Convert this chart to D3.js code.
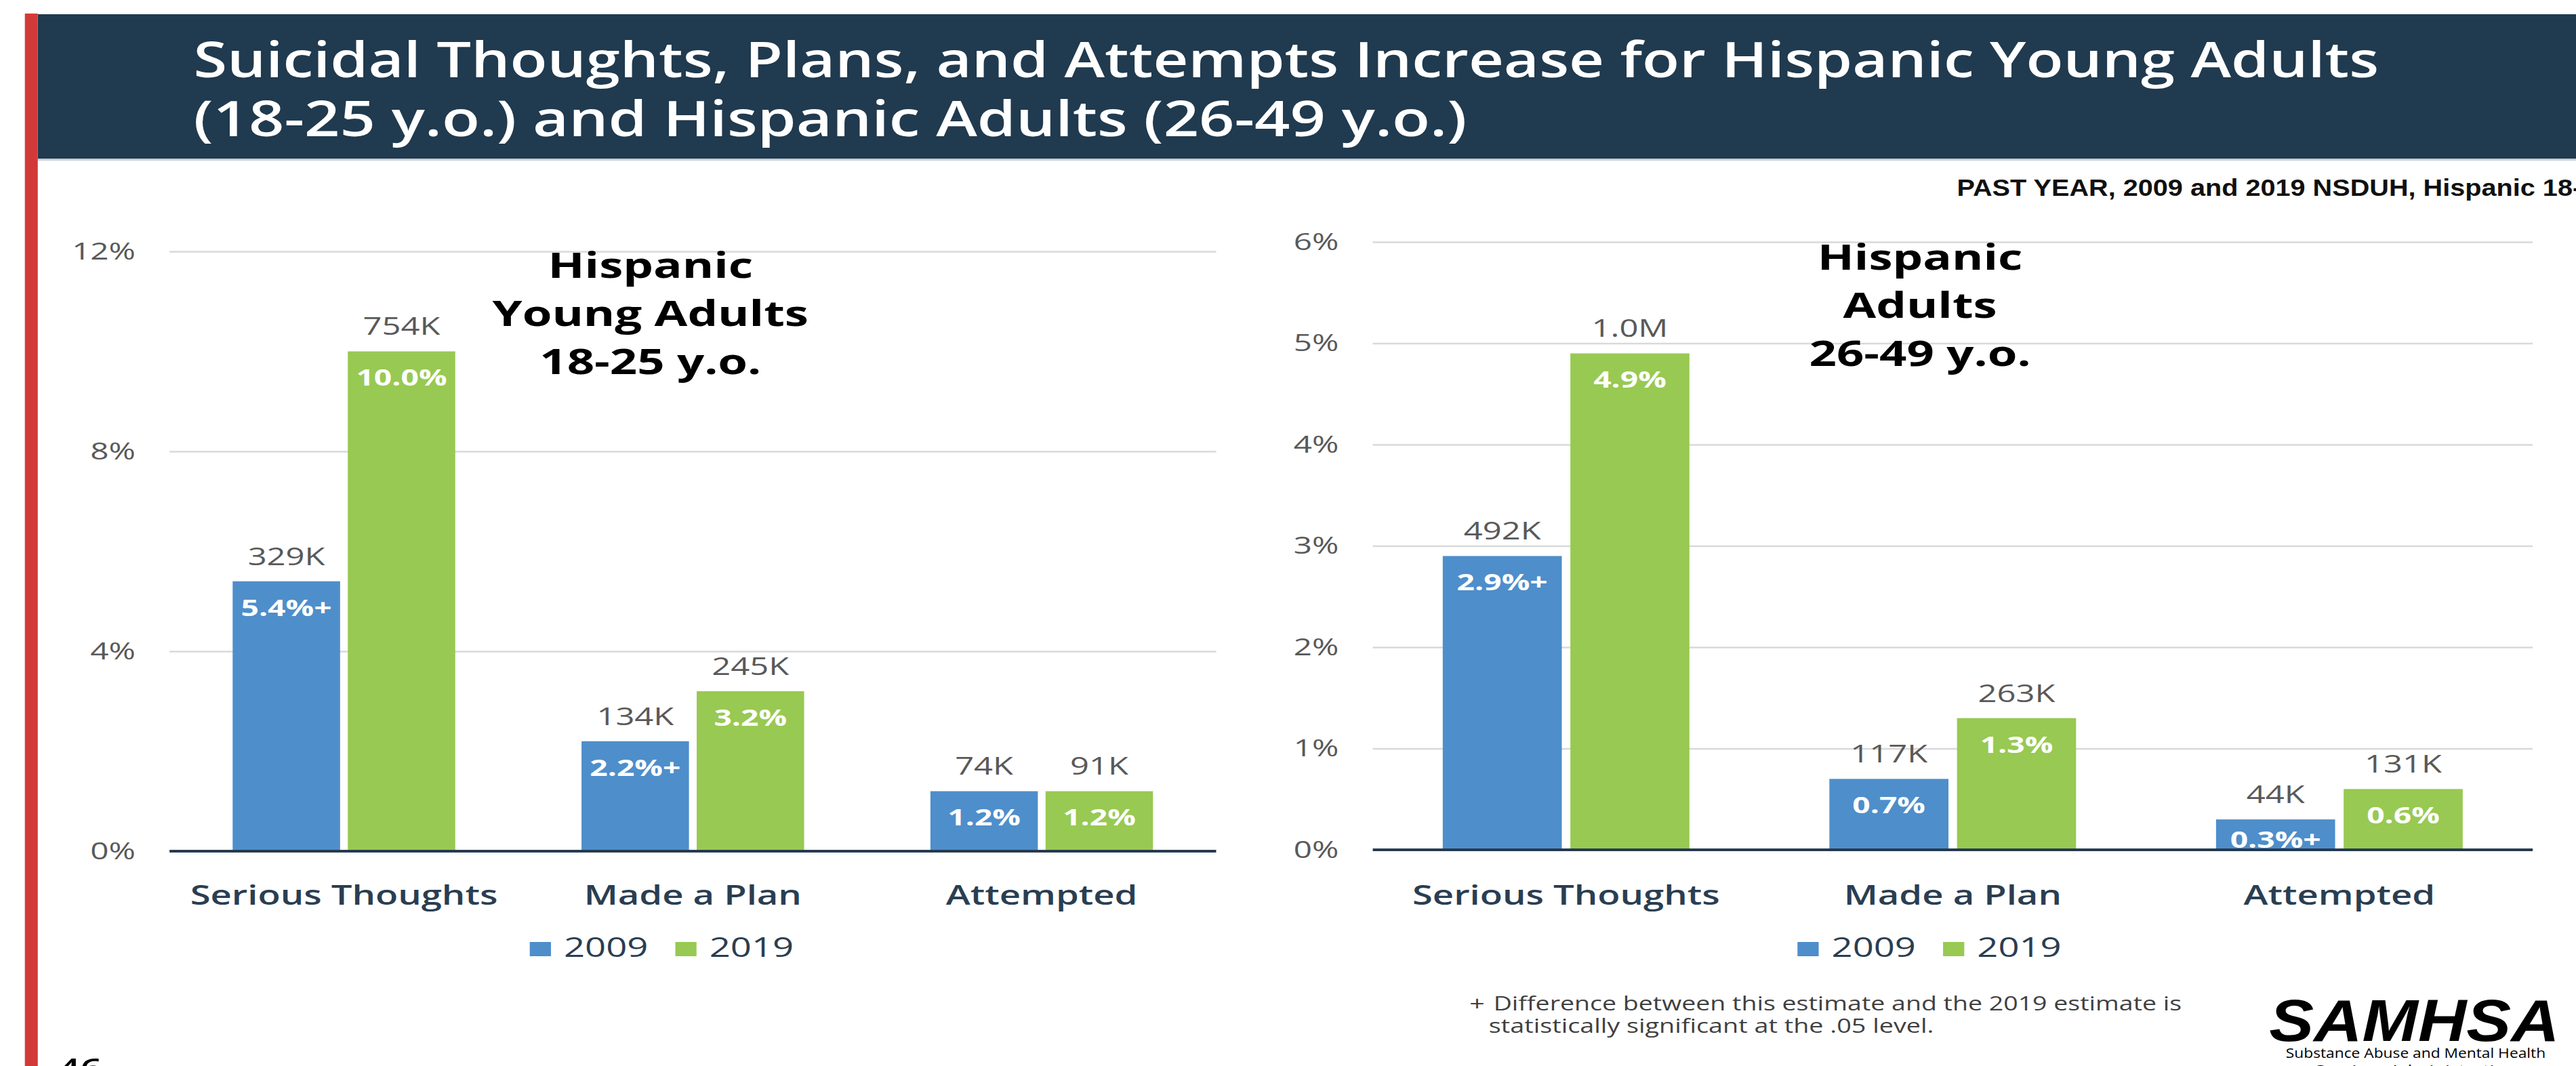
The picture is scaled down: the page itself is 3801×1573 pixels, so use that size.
<!DOCTYPE html>
<html>
<head>
<meta charset="utf-8">
<script src="https://cdn.jsdelivr.net/npm/d3@7"></script>
<style>
  html, body { margin: 0; padding: 0; background: #ffffff; overflow: hidden; }
  svg { display: block; }
</style>
</head>
<body>
<svg id="slide"></svg>
<script>
// ---- data -------------------------------------------------------------
const categories = ["Serious Thoughts", "Made a Plan", "Attempted"];
const years = ["2009", "2019"];

// Hispanic young adults, 18-25 (percent of population, past year)
const youngPct2009 = [5.4, 2.2, 1.2];
const youngPct2019 = [10.0, 3.2, 1.2];
const youngCount2009 = ["329K", "134K", "74K"];
const youngCount2019 = ["754K", "245K", "91K"];
const youngSig2009 = [true, true, false];
const youngTicks = [0, 4, 8, 12];

// Hispanic adults, 26-49
const adultPct2009 = [2.9, 0.7, 0.3];
const adultPct2019 = [4.9, 1.3, 0.6];
const adultCount2009 = ["492K", "117K", "44K"];
const adultCount2019 = ["1.0M", "263K", "131K"];
const adultSig2009 = [true, false, true];
const adultTicks = [0, 1, 2, 3, 4, 5, 6];

const titleLines = [
  "Suicidal Thoughts, Plans, and Attempts Increase for Hispanic Young Adults",
  "(18-25 y.o.) and Hispanic Adults (26-49 y.o.)"
];
const sourceNote = "PAST YEAR, 2009 and 2019 NSDUH, Hispanic 18-";
const footnoteLines = [
  "Difference between this estimate and the 2019 estimate is",
  "statistically significant at the .05 level."
];

// ---- page setup -------------------------------------------------------
// The slide is laid out on a 16:9 canvas and stretched to fill the window.
const W = 2796, H = 1573;
const svg = d3.select("#slide")
  .attr("width", 3801).attr("height", 1573)
  .attr("viewBox", `0 0 ${W} ${H}`)
  .attr("preserveAspectRatio", "none");

const SANS = "'Open Sans', 'Noto Sans', sans-serif";
const BLUE = "#4e8ecb", GREEN = "#98c952";
const NAVY = "#203a4f", INK = "#2a3e52", GREY = "#595959";

svg.append("rect").attr("width", W).attr("height", H).attr("fill", "#ffffff");

// header band
svg.append("rect").attr("x", 41).attr("y", 21).attr("width", W - 41).attr("height", 213).attr("fill", NAVY);
svg.append("rect").attr("x", 41).attr("y", 234).attr("width", W - 41).attr("height", 3).attr("fill", "#c9d0d8");
// red side stripe
svg.append("rect").attr("x", 27).attr("y", 20).attr("width", 14).attr("height", H - 20).attr("fill", "#d23a3a");

const titleWidths = [2372, 1382];
svg.append("g").selectAll("text").data(titleLines).join("text")
  .attr("x", 210).attr("y", (d, i) => 114 + i * 87)
  .attr("fill", "#ffffff")
  .attr("font-family", SANS).attr("font-weight", 600).attr("font-size", 72)
  .attr("textLength", (d, i) => titleWidths[i]).attr("lengthAdjust", "spacingAndGlyphs")
  .text(d => d);

// source line (condensed bold)
svg.append("text")
  .attr("x", 2124).attr("y", 289)
  .attr("fill", "#111111")
  .attr("font-family", "'Liberation Sans', Arial, sans-serif").attr("font-weight", 700).attr("font-size", 35)
  .attr("textLength", 678).attr("lengthAdjust", "spacingAndGlyphs")
  .text(sourceNote);

// ---- panels -----------------------------------------------------------
const panels = [
  {
    left: 184, right: 1320, bottom: 1256, top: 371, max: 12, ticks: youngTicks,
    pct: [youngPct2009, youngPct2019], counts: [youngCount2009, youngCount2019],
    sig: [youngSig2009, [false, false, false]],
    subtitle: ["Hispanic", "Young Adults", "18-25 y.o."], subX: 706, subY: 410,
    legendX: 575
  },
  {
    left: 1490, right: 2749, bottom: 1254, top: 357, max: 6, ticks: adultTicks,
    pct: [adultPct2009, adultPct2019], counts: [adultCount2009, adultCount2019],
    sig: [adultSig2009, [false, false, false]],
    subtitle: ["Hispanic", "Adults", "26-49 y.o."], subX: 2084, subY: 398,
    legendX: 1951
  }
];

function drawPanel(p) {
  const g = svg.append("g");

  const x0 = d3.scaleBand().domain(categories).range([p.left, p.right])
    .paddingInner(0.362).paddingOuter(0.181);
  const x1 = d3.scaleBand().domain(years).range([0, x0.bandwidth()]).paddingInner(0.067);
  const y = d3.scaleLinear().domain([0, p.max]).range([p.bottom, p.top]);
  const colour = d3.scaleOrdinal().domain(years).range([BLUE, GREEN]);

  // gridlines and percent ticks
  const axis = d3.axisLeft(y).tickValues(p.ticks)
    .tickSize(-(p.right - p.left)).tickPadding(37)
    .tickFormat(d => d + "%");
  const ag = g.append("g").attr("transform", `translate(${p.left},0)`).call(axis);
  ag.attr("font-family", SANS).attr("font-size", 35);
  ag.select(".domain").remove();
  ag.selectAll(".tick line").attr("stroke", "#d9d9d9").attr("stroke-width", 2.5)
    .filter(d => d === 0).remove();
  ag.selectAll(".tick text").attr("fill", GREY);

  const rows = categories.map((c, i) => ({
    cat: c,
    bars: years.map((yr, j) => ({
      cat: c, year: yr, pct: p.pct[j][i], count: p.counts[j][i], sig: p.sig[j][i]
    }))
  }));

  const groups = g.append("g").selectAll("g").data(rows).join("g")
    .attr("transform", d => `translate(${x0(d.cat)},0)`);

  groups.selectAll("rect").data(d => d.bars).join("rect")
    .attr("x", d => x1(d.year))
    .attr("y", d => y(d.pct))
    .attr("width", x1.bandwidth())
    .attr("height", d => y(0) - y(d.pct))
    .attr("fill", d => colour(d.year));

  // population counts above the bars
  groups.selectAll("text.count").data(d => d.bars).join("text")
    .attr("class", "count")
    .attr("x", d => x1(d.year) + x1.bandwidth() / 2)
    .attr("y", d => y(d.pct) - 24)
    .attr("text-anchor", "middle")
    .attr("fill", GREY)
    .attr("font-family", SANS).attr("font-size", 36)
    .text(d => d.count);

  // percentages inside the bars
  groups.selectAll("text.pct").data(d => d.bars).join("text")
    .attr("class", "pct")
    .attr("x", d => x1(d.year) + x1.bandwidth() / 2)
    .attr("y", d => Math.min(y(d.pct) + 51, y(0) - 3))
    .attr("text-anchor", "middle")
    .attr("fill", "#ffffff")
    .attr("font-family", SANS).attr("font-weight", 700).attr("font-size", 34)
    .text(d => d.pct.toFixed(1) + "%" + (d.sig ? "+" : ""));

  // baseline
  g.append("line")
    .attr("x1", p.left).attr("x2", p.right)
    .attr("y1", y(0)).attr("y2", y(0))
    .attr("stroke", "#263a4e").attr("stroke-width", 4);

  // category labels
  g.append("g").selectAll("text").data(categories).join("text")
    .attr("x", d => x0(d) + x0.bandwidth() / 2)
    .attr("y", 1335)
    .attr("text-anchor", "middle")
    .attr("fill", INK)
    .attr("font-family", SANS).attr("font-weight", 600).attr("font-size", 40)
    .text(d => d);

  // panel heading
  g.append("g").selectAll("text").data(p.subtitle).join("text")
    .attr("x", p.subX).attr("y", (d, i) => p.subY + i * 71)
    .attr("text-anchor", "middle")
    .attr("fill", "#000000")
    .attr("font-family", SANS).attr("font-weight", 700).attr("font-size", 52)
    .text(d => d);

  // legend
  const lg = g.append("g").attr("transform", `translate(${p.legendX},0)`);
  const items = lg.selectAll("g").data(years).join("g")
    .attr("transform", (d, i) => `translate(${i * 158},0)`);
  items.append("rect").attr("x", 0).attr("y", 1390).attr("width", 23).attr("height", 21)
    .attr("fill", d => colour(d));
  items.append("text").attr("x", 37).attr("y", 1412)
    .attr("fill", INK)
    .attr("font-family", SANS).attr("font-size", 40)
    .text(d => d);
}

panels.forEach(drawPanel);

// ---- footnote, logo, page number -------------------------------------
svg.append("text").attr("x", 1595).attr("y", 1491)
  .attr("fill", "#404040").attr("font-family", SANS).attr("font-size", 29).text("+");
const footWidths = [747, 483];
svg.append("g").selectAll("text").data(footnoteLines).join("text")
  .attr("x", (d, i) => i === 0 ? 1621 : 1616)
  .attr("y", (d, i) => 1491 + i * 33)
  .attr("fill", "#404040")
  .attr("font-family", SANS).attr("font-size", 29)
  .attr("textLength", (d, i) => footWidths[i]).attr("lengthAdjust", "spacingAndGlyphs")
  .text(d => d);

svg.append("text").attr("x", 2463).attr("y", 1536)
  .attr("fill", "#000000")
  .attr("font-family", "'Liberation Sans', Arial, sans-serif").attr("font-weight", 700)
  .attr("font-style", "italic").attr("font-size", 88)
  .attr("textLength", 315).attr("lengthAdjust", "spacingAndGlyphs")
  .text("SAMHSA");
svg.append("text").attr("x", 2622).attr("y", 1561)
  .attr("text-anchor", "middle").attr("fill", "#000000")
  .attr("font-family", SANS).attr("font-size", 20)
  .attr("textLength", 282).attr("lengthAdjust", "spacingAndGlyphs")
  .text("Substance Abuse and Mental Health");
svg.append("text").attr("x", 2622).attr("y", 1586)
  .attr("text-anchor", "middle").attr("fill", "#000000")
  .attr("font-family", SANS).attr("font-size", 20)
  .text("Services Administration");

svg.append("text").attr("x", 63).attr("y", 1592)
  .attr("fill", "#000000")
  .attr("font-family", SANS).attr("font-weight", 600).attr("font-size", 42)
  .text("46");
</script>
</body>
</html>
